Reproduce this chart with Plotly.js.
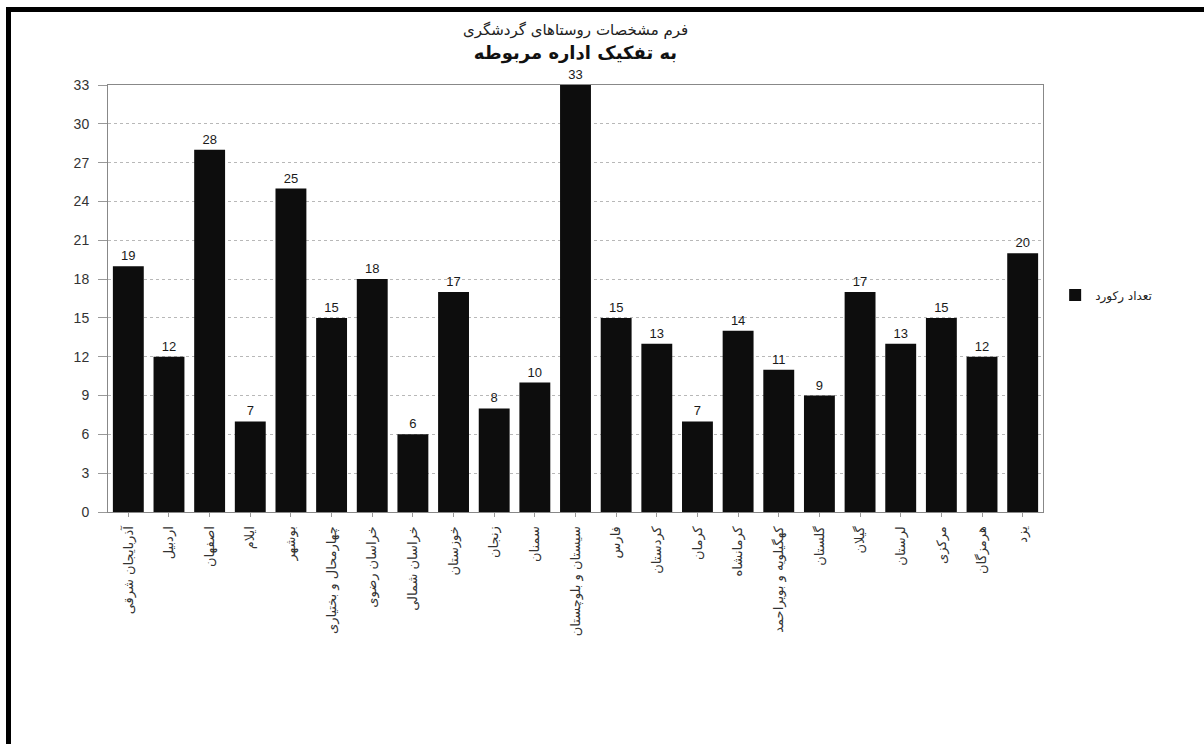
<!DOCTYPE html>
<html>
<head>
<meta charset="utf-8">
<script src="https://cdn.plot.ly/plotly-3.0.1.min.js"></script>
<style>
  html, body { margin: 0; padding: 0; background: #fff; }
  #chart { position: absolute; left: 0; top: 0; width: 1204px; height: 744px; }
  #frame { position: absolute; left: 6px; top: 7px; width: 1300px; height: 800px;
           border-left: 5px solid #000; border-top: 5px solid #000; pointer-events: none; }
</style>
</head>
<body>
<div id="chart"></div>
<div id="frame"></div>
<script>
const titleLine1 = "فرم مشخصات روستاهای گردشگری";
const titleLine2 = "به تفکیک اداره مربوطه";
const seriesName = "تعداد رکورد";

const provinces = [
  "آذربایجان شرقی", "اردبیل", "اصفهان", "ایلام", "بوشهر",
  "چهارمحال و بختیاری", "خراسان رضوی", "خراسان شمالی", "خوزستان", "زنجان",
  "سمنان", "سیستان و بلوچستان", "فارس", "کردستان", "کرمان",
  "کرمانشاه", "کهگیلویه و بویراحمد", "گلستان", "گیلان", "لرستان",
  "مرکزی", "هرمزگان", "یزد"
];
const counts = [19, 12, 28, 7, 25, 15, 18, 6, 17, 8, 10, 33, 15, 13, 7, 14, 11, 9, 17, 13, 15, 12, 20];
const yTicks = [0, 3, 6, 9, 12, 15, 18, 21, 24, 27, 30, 33];

const fontFam = "Liberation Sans, DejaVu Sans, sans-serif";
const faFont = "DejaVu Sans, sans-serif";

const trace = {
  type: "bar",
  x: provinces,
  y: counts,
  name: seriesName,
  marker: { color: "#0d0d0d", line: { width: 0 } },
  text: counts.map(String),
  textposition: "outside",
  textfont: { family: fontFam, size: 13, color: "#1a1a1a" },
  cliponaxis: false,
  showlegend: true
};

const layout = {
  width: 1204,
  height: 744,
  margin: { l: 108, r: 161, t: 85, b: 232, pad: 0 },
  paper_bgcolor: "#fff",
  plot_bgcolor: "#fff",
  bargap: 0.24,
  font: { family: fontFam, color: "#222" },
  title: {
    text: "<b>" + titleLine2 + "</b>",
    font: { family: faFont, size: 18, color: "#111" },
    x: 0.5, xref: "paper", xanchor: "center",
    y: 1 - 53 / 744, yref: "container", yanchor: "middle"
  },
  annotations: [{
    text: titleLine1,
    xref: "paper", yref: "paper",
    x: 0.5, y: (512 - 30) / 427,
    xanchor: "center", yanchor: "middle",
    showarrow: false,
    font: { family: faFont, size: 15, color: "#222" }
  }],
  xaxis: {
    type: "category",
    tickangle: -90,
    tickfont: { family: faFont, size: 13, color: "#333" },
    ticks: "outside", ticklen: 4, tickcolor: "#999",
    ticklabelstandoff: 4,
    showline: true, linecolor: "#888", linewidth: 1, mirror: true,
    showgrid: false,
    automargin: false
  },
  yaxis: {
    range: [0, 33],
    tickvals: yTicks,
    ticktext: yTicks.map(String),
    tickfont: { family: fontFam, size: 14, color: "#333" },
    ticks: "outside", ticklen: 9, tickcolor: "#999",
    ticklabelstandoff: 6,
    showline: true, linecolor: "#888", linewidth: 1, mirror: true,
    showgrid: true, gridcolor: "#b8b8b8", gridwidth: 1, griddash: "dot",
    zeroline: false,
    automargin: false
  },
  legend: {
    x: 1.013, xanchor: "left",
    y: 0.508, yanchor: "middle",
    font: { family: faFont, size: 12, color: "#222" },
    bgcolor: "rgba(0,0,0,0)",
    itemwidth: 30
  },
  showlegend: true
};

Plotly.newPlot("chart", [trace], layout, { displayModeBar: false, staticPlot: true });
</script>
</body>
</html>
